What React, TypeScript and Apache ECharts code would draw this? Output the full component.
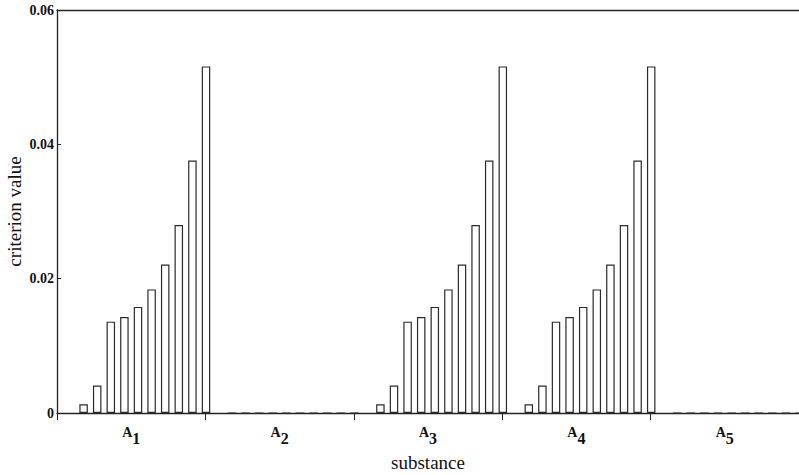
import React, { useEffect, useRef } from "react";
import * as echarts from "echarts";

const substances = ["A1", "A2", "A3", "A4", "A5"];
const yTicks = [0, 0.02, 0.04, 0.06];
// criterion values for each substance (10 criteria)
const A1 = [0.0013, 0.0041, 0.0136, 0.0143, 0.0158, 0.0184, 0.0221, 0.028, 0.0376, 0.0516];
const A2 = [0, 0, 0, 0, 0, 0, 0, 0, 0, 0];
const A3 = [0.0013, 0.0041, 0.0136, 0.0143, 0.0158, 0.0184, 0.0221, 0.028, 0.0376, 0.0516];
const A4 = [0.0013, 0.0041, 0.0136, 0.0143, 0.0158, 0.0184, 0.0221, 0.028, 0.0376, 0.0516];
const A5 = [0, 0, 0, 0, 0, 0, 0, 0, 0, 0];
const bySubstance = [A1, A2, A3, A4, A5];
// two empty leading slots, as in the original grouped bar layout
const emptySlots = 2;

const FONT = "'Liberation Serif', 'Times New Roman', serif";

export default function App() {
  const ref = useRef<HTMLDivElement>(null);
  useEffect(() => {
    if (!ref.current) return;
    const chart = echarts.init(ref.current, null, { renderer: "svg" });
    const series: any[] = [];
    for (let k = 0; k < emptySlots; k++) {
      series.push({
        type: "bar",
        name: "pad" + k,
        data: substances.map(() => "-"),
        barWidth: 8.5,
        barGap: "60%",
        silent: true,
      });
    }
    for (let i = 0; i < A1.length; i++) {
      series.push({
        type: "bar",
        name: "c" + (i + 1),
        data: bySubstance.map((arr) => arr[i]),
        barWidth: 8.5,
        barGap: "60%",
        itemStyle: { color: "#ffffff", borderColor: "#2a2a2a", borderWidth: 1.2 },
      });
    }
    chart.setOption({
      animation: false,
      backgroundColor: "#ffffff",
      grid: { left: 57, right: 0, top: 10, bottom: 62, containLabel: false, outerBoundsMode: "none" },
      xAxis: [
        {
          type: "category",
          data: substances,
          position: "bottom",
          name: "substance",
          nameLocation: "middle",
          nameGap: 40,
          nameMoveOverlap: false,
          nameTextStyle: { fontFamily: FONT, fontSize: 19, color: "#111" },
          axisLine: { lineStyle: { color: "#222", width: 1.3 } },
          axisTick: { show: true, length: 7, inside: false, lineStyle: { color: "#222" } },
          axisLabel: {
            margin: 12,
            formatter: (v: string) => `{a|${v[0]}}{s|${v.slice(1)}}`,
            rich: {
              a: { fontFamily: FONT, fontSize: 14, fontWeight: "bold", color: "#111", verticalAlign: "top", lineHeight: 15 },
              s: { fontFamily: FONT, fontSize: 16, fontWeight: "bold", color: "#111", verticalAlign: "top", lineHeight: 16, padding: [5, 0, 0, 0] },
            },
          },
          splitLine: { show: false },
        },
        {
          type: "category",
          data: substances,
          position: "top",
          axisLine: { show: true, lineStyle: { color: "#222", width: 1.3 } },
          axisTick: { show: false },
          axisLabel: { show: false },
        },
      ],
      yAxis: {
        type: "value",
        min: 0,
        max: 0.06,
        interval: 0.02,
        name: "criterion value",
        nameLocation: "middle",
        nameGap: 33,
        nameMoveOverlap: false,
        nameTextStyle: { fontFamily: FONT, fontSize: 19, color: "#111" },
        axisLine: { show: true, lineStyle: { color: "#222", width: 1.3 } },
        axisTick: { show: true, inside: true, length: 4, lineStyle: { color: "#222" } },
        axisLabel: {
          margin: 3,
          fontFamily: FONT,
          fontSize: 14,
          fontWeight: "bold",
          color: "#111",
          formatter: (v: number) => {
            const t = yTicks.find((x) => Math.abs(x - v) < 1e-9);
            return t === 0 ? "0" : (t ?? v).toFixed(2);
          },
        },
        splitLine: { show: false },
      },
      series,
    });
    return () => chart.dispose();
  }, []);
  return (
    <div
      ref={ref}
      style={{ position: "fixed", left: 0, top: 0, width: 799, height: 475, background: "#fff" }}
    />
  );
}
